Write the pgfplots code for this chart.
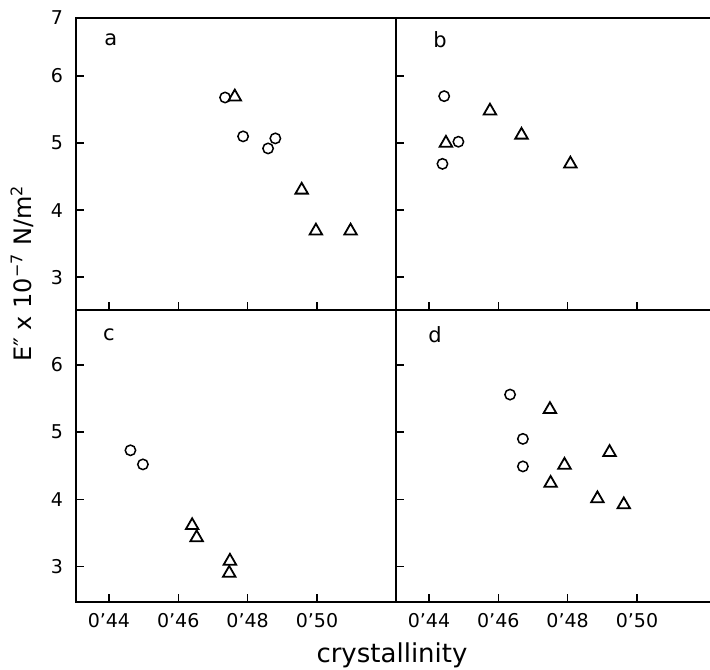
\documentclass[border=0pt]{standalone}
\usepackage{pgfplots}
\pgfplotsset{compat=1.18}
\usepackage{fontspec}
\setmainfont{DejaVu Sans}
\pgfplotsset{
  panel/.style={
    scale only axis, width=160pt, height=146pt,
    anchor=south west,
    xmin=0.4305, xmax=0.5228,
    axis line style={line width=1pt},
    tick align=inside, xtick pos=bottom, ytick pos=left,
    major tick length=4pt,
    tick style={line width=0.7pt, black},
    xtick={0.44,0.46,0.48,0.50},
    xticklabels={},
    ytick={3,4,5,6}, yticklabels={},
    ticklabel style={font=\fontsize{9.5}{11}\selectfont},
    clip=false,
  },
  circ/.style={only marks, mark=o, mark size=2.6pt, mark options={line width=0.75pt, black}},
  tri/.style={only marks, mark=triangle, mark size=3.6pt, mark options={line width=0.9pt, black}},
}
\tikzset{lettr/.style={font=\fontsize{10.5}{12}\selectfont}}
\begin{document}
\begin{tikzpicture}
\useasboundingbox (0,0) rectangle (355pt,334.5pt);
% panel a
\begin{axis}[panel, at={(38pt,179.5pt)}, ymin=2.51, ymax=6.866,
  yticklabels={3,4,5,6}, extra y ticks={6.866}, extra y tick labels={7},
  extra y tick style={major tick length=0pt},
  yticklabel style={xshift=-3pt}]
\addplot[circ] coordinates {(0.4735,5.68) (0.4787,5.10) (0.4859,4.92) (0.4880,5.07)};
\addplot[tri] coordinates {(0.4763,5.69) (0.4956,4.30) (0.4997,3.69) (0.5097,3.69)};
\node[lettr] at (rel axis cs:0.109,0.925) {a};
\end{axis}
% panel b
\begin{axis}[panel, at={(198pt,179.5pt)}, ymin=2.51, ymax=6.866]
\addplot[circ] coordinates {(0.4444,5.70) (0.4439,4.69) (0.4485,5.02)};
\addplot[tri] coordinates {(0.4449,5.00) (0.4576,5.48) (0.4667,5.12) (0.4808,4.69)};
\node[lettr] at (rel axis cs:0.1375,0.925) {b};
\end{axis}
% panel c
\begin{axis}[panel, at={(38pt,33.5pt)}, ymin=2.47, ymax=6.82,
  yticklabels={3,4,5,6}, yticklabel style={xshift=-3pt},
  xticklabels={0’44,0’46,0’48,0’50}, xticklabel style={yshift=-2pt}]
\addplot[circ] coordinates {(0.4462,4.73) (0.4498,4.52)};
\addplot[tri] coordinates {(0.4640,3.61) (0.4653,3.43) (0.4749,3.08) (0.4747,2.90)};
\node[lettr] at (rel axis cs:0.103,0.914) {c};
\end{axis}
% panel d
\begin{axis}[panel, at={(198pt,33.5pt)}, ymin=2.47, ymax=6.82,
  xticklabels={0’44,0’46,0’48,0’50}, xticklabel style={yshift=-2pt}]
\addplot[circ] coordinates {(0.4634,5.56) (0.4671,4.90) (0.4671,4.49)};
\addplot[tri] coordinates {(0.4749,5.34) (0.4921,4.70) (0.4791,4.51) (0.4751,4.24) (0.4886,4.01) (0.4962,3.92)};
\node[lettr] at (rel axis cs:0.122,0.914) {d};
\end{axis}
\node[rotate=90, font=\fontsize{12}{14}\selectfont] at (11pt,197.75pt) {E″ x 10\textsuperscript{−7} N/m\textsuperscript{2}};
\node[font=\fontsize{13}{15}\selectfont] at (196pt,7pt) {crystallinity};
\end{tikzpicture}
\end{document}
